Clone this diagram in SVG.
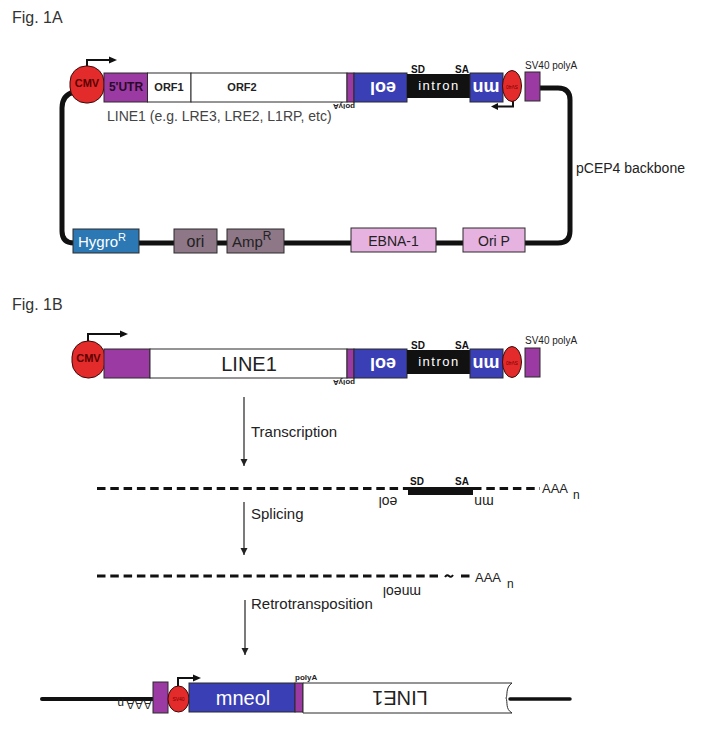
<svg xmlns="http://www.w3.org/2000/svg" width="708" height="730" viewBox="0 0 708 730">
<defs>
<style>
text{font-family:"Liberation Sans",Arial,sans-serif}
.bx{stroke:#2b2b2b;stroke-width:1}
.pu{fill:#9b3aa3}
.bl{fill:#3a3fb5}
.rd{fill:#e32b2b;stroke:#3a0a0a;stroke-width:1}
.wh{fill:#fff}
.b{font-weight:bold}
.cap{fill:#333;font-size:16px}
.bk{fill:none;stroke:#111}
.ar{fill:none;stroke:#111;stroke-width:2}
.thin{fill:none;stroke:#222;stroke-width:1.2}
.dash{fill:none;stroke:#111;stroke-width:3;stroke-dasharray:8.5 4.8}
.lab{fill:#222;font-size:15px}
.sv{fill:#7a0000;font-size:5px}
</style>
<marker id="ah" viewBox="0 0 10 10" refX="10" refY="5" markerWidth="7" markerHeight="8" markerUnits="userSpaceOnUse" orient="auto">
<path d="M0 0 L10 5 L0 10 Z" fill="#222"/>
</marker>
</defs>
<rect width="708" height="730" fill="#fff"/>

<!-- ================= Fig 1A ================= -->
<text class="cap" x="12" y="23">Fig. 1A</text>

<g id="connectors">
<path class="bk" stroke-width="5" d="M74 92 Q62 95 62 108 V231 Q62 243 74 243 H558 Q570 243 570 231 V100 Q570 88 558 88 H538"/>
<path class="ar" d="M87 66 V60 H110"/>
<polygon points="109,56.5 117,60 109,63.5" fill="#111"/>
<path class="ar" d="M513 101 V106.5 H497"/>
<polygon points="498,103 491,106.5 498,110" fill="#111"/>
<path class="ar" d="M88 341 V334 H121"/>
<polygon points="120,330.5 128,334 120,337.5" fill="#111"/>
<line class="thin" x1="244" y1="397" x2="244" y2="466" marker-end="url(#ah)"/>
<line class="thin" x1="244" y1="502" x2="244" y2="555" marker-end="url(#ah)"/>
<line class="thin" x1="245" y1="600" x2="245" y2="655" marker-end="url(#ah)"/>
</g>

<g id="cmv-a">
<rect class="rd" x="70" y="66" width="34" height="37" rx="16"/>
<text class="b" x="87" y="87" font-size="11" fill="#5a0000" text-anchor="middle">CMV</text>
</g>
<g id="utr-a">
<rect class="bx pu" x="104" y="73" width="43.5" height="29"/>
<text class="b" x="126" y="91" font-size="12" fill="#2a0a2a" text-anchor="middle">5'UTR</text>
</g>
<g id="orf1-a">
<rect class="bx wh" x="147.5" y="73" width="43.5" height="29"/>
<text class="b" x="169" y="91" font-size="11" fill="#222" text-anchor="middle">ORF1</text>
</g>
<g id="orf2-a">
<rect class="bx wh" x="191" y="73" width="156" height="29"/>
<text class="b" x="242" y="91" font-size="11" fill="#222" text-anchor="middle">ORF2</text>
</g>
<g id="polya-a">
<rect class="bx pu" x="347" y="73" width="7" height="29"/>
<text class="b" font-size="8" fill="#222" text-anchor="middle" transform="translate(344,104) rotate(180)">polyA</text>
</g>
<g id="eol-a">
<rect class="bx bl" x="354" y="73" width="53" height="29"/>
<text class="b" font-size="18" fill="#fff" text-anchor="middle" transform="translate(383,82) rotate(180)">eol</text>
</g>
<g id="intron-a">
<rect x="407" y="74" width="63" height="24" fill="#111"/>
<text x="439" y="90" font-size="13" fill="#fff" letter-spacing="1.5" text-anchor="middle">intron</text>
<text class="b" x="411" y="73" font-size="10" fill="#111">SD</text>
<text class="b" x="455" y="73" font-size="10" fill="#111">SA</text>
</g>
<g id="mn-a">
<rect class="bx bl" x="470" y="73" width="33" height="29"/>
<text class="b" font-size="18" fill="#fff" text-anchor="middle" transform="translate(486,82) rotate(180)">mn</text>
</g>
<g id="sv40-a">
<ellipse class="rd" cx="512" cy="86" rx="9.5" ry="15.5"/>
<text class="sv" text-anchor="middle" transform="translate(512,84.5) rotate(180)">SV40</text>
</g>
<g id="sv40pa-a">
<rect class="bx pu" x="525" y="72" width="15" height="29"/>
<text x="525" y="69" font-size="10" fill="#222">SV40 polyA</text>
</g>
<text x="107" y="121" font-size="14" fill="#444">LINE1 (e.g. LRE3, LRE2, L1RP, etc)</text>
<text x="576" y="173" font-size="14" fill="#222">pCEP4 backbone</text>

<g id="hygro">
<rect class="bx" x="73" y="229" width="66" height="24" fill="#2b78b4"/>
<text x="78" y="247" font-size="15" fill="#fff">Hygro<tspan font-size="11" dy="-6">R</tspan></text>
</g>
<g id="ori">
<rect class="bx" x="174" y="229" width="43" height="24" fill="#8e7787"/>
<text x="195.5" y="247" font-size="16" fill="#222" text-anchor="middle">ori</text>
</g>
<g id="ampr">
<rect class="bx" x="227" y="229" width="57" height="24" fill="#8e7787"/>
<text x="232" y="247" font-size="15" fill="#222">Amp<tspan font-size="12" dy="-7">R</tspan></text>
</g>
<g id="ebna1">
<rect class="bx" x="351" y="228" width="85" height="24" fill="#e6b2e0"/>
<text x="393.5" y="246" font-size="14" fill="#222" text-anchor="middle">EBNA-1</text>
</g>
<g id="orip">
<rect class="bx" x="463" y="228" width="62" height="24" fill="#e6b2e0"/>
<text x="494" y="246" font-size="14" fill="#222" text-anchor="middle">Ori P</text>
</g>

<!-- ================= Fig 1B ================= -->
<text class="cap" x="12" y="310">Fig. 1B</text>

<g id="cmv-b">
<rect class="rd" x="72" y="341" width="33" height="37" rx="16"/>
<text class="b" x="88.5" y="362" font-size="11" fill="#5a0000" text-anchor="middle">CMV</text>
</g>
<g id="utr-b">
<rect class="bx pu" x="104" y="349" width="46" height="29"/>
</g>
<g id="line1-b">
<rect class="bx wh" x="150" y="349" width="197" height="29"/>
<text x="249" y="371" font-size="20" fill="#222" text-anchor="middle">LINE1</text>
</g>
<g id="polya-b">
<rect class="bx pu" x="347" y="349" width="7" height="29"/>
<text class="b" font-size="8" fill="#222" text-anchor="middle" transform="translate(344,380) rotate(180)">polyA</text>
</g>
<g id="eol-b">
<rect class="bx bl" x="354" y="349" width="53" height="29"/>
<text class="b" font-size="18" fill="#fff" text-anchor="middle" transform="translate(383,358) rotate(180)">eol</text>
</g>
<g id="intron-b">
<rect x="407" y="350" width="63" height="24" fill="#111"/>
<text x="439" y="366" font-size="13" fill="#fff" letter-spacing="1.5" text-anchor="middle">intron</text>
<text class="b" x="411" y="349" font-size="10" fill="#111">SD</text>
<text class="b" x="455" y="349" font-size="10" fill="#111">SA</text>
</g>
<g id="mn-b">
<rect class="bx bl" x="470" y="349" width="33" height="29"/>
<text class="b" font-size="18" fill="#fff" text-anchor="middle" transform="translate(486,358) rotate(180)">mn</text>
</g>
<g id="sv40-b">
<ellipse class="rd" cx="512" cy="362" rx="9.5" ry="15.5"/>
<text class="sv" text-anchor="middle" transform="translate(512,360.5) rotate(180)">SV40</text>
</g>
<g id="sv40pa-b">
<rect class="bx pu" x="525" y="348" width="15" height="29"/>
<text x="525" y="344" font-size="10" fill="#222">SV40 polyA</text>
</g>

<text class="lab" x="251" y="437">Transcription</text>
<g id="premrna">
<path class="dash" d="M97 488.5 H408 M473 488.5 H540"/>
<rect x="408" y="487" width="65" height="8" fill="#111"/>
<text class="b" x="410" y="485" font-size="10" fill="#111">SD</text>
<text class="b" x="455" y="485" font-size="10" fill="#111">SA</text>
<text font-size="14" fill="#222" text-anchor="middle" transform="translate(388,497) rotate(180)">eol</text>
<text font-size="14" fill="#222" text-anchor="middle" transform="translate(484,497) rotate(180)">mn</text>
<text x="542" y="493" font-size="13" fill="#222">AAA</text>
<text x="573" y="499" font-size="12" fill="#222">n</text>
</g>

<text class="lab" x="251" y="519">Splicing</text>
<g id="mrna">
<path class="dash" d="M97 576 H440 M461 576 H472"/>
<path d="M445 577 Q447 574 449 576 Q451 578 453 575" fill="none" stroke="#111" stroke-width="2"/>
<text font-size="14" fill="#222" text-anchor="middle" transform="translate(402,587) rotate(180)">mneol</text>
<text x="475" y="582" font-size="13" fill="#222">AAA</text>
<text x="507" y="588" font-size="12" fill="#222">n</text>
</g>

<text class="lab" x="251" y="609">Retrotransposition</text>

<g id="genomic">
<line x1="42" y1="699" x2="153" y2="699" stroke="#111" stroke-width="4" stroke-linecap="round"/>
<line x1="510" y1="699" x2="570" y2="699" stroke="#111" stroke-width="3.5" stroke-linecap="round"/>
<text font-size="13" fill="#222" transform="translate(152,700) rotate(180)">AAA<tspan font-size="12" dx="2" dy="1">n</tspan></text>
</g>
<g id="polya-c">
<rect class="bx pu" x="153" y="682" width="15" height="31"/>
</g>
<g id="sv40-c">
<ellipse class="rd" cx="178.5" cy="699" rx="10.5" ry="13"/>
<text class="sv" text-anchor="middle" x="178.5" y="701">SV40</text>
<path class="ar" d="M178 686 V678 H194"/>
<polygon points="193,674.5 201,678 193,681.5" fill="#111"/>
</g>
<g id="mneol-c">
<rect class="bx bl" x="189" y="683" width="106" height="29"/>
<text x="243" y="705" font-size="20" fill="#fff" text-anchor="middle">mneol</text>
</g>
<g id="polya2-c">
<rect class="bx pu" x="295" y="683" width="8" height="29"/>
<text class="b" x="295" y="680" font-size="8" fill="#222">polyA</text>
</g>
<g id="line1-c">
<path class="bx wh" d="M303 683 H512 C505 688 508 695 506 698 C508 702 505 709 512 713 H303 Z"/>
<text font-size="20" fill="#222" text-anchor="middle" transform="translate(400,691) rotate(180)">LINE1</text>
</g>
</svg>
